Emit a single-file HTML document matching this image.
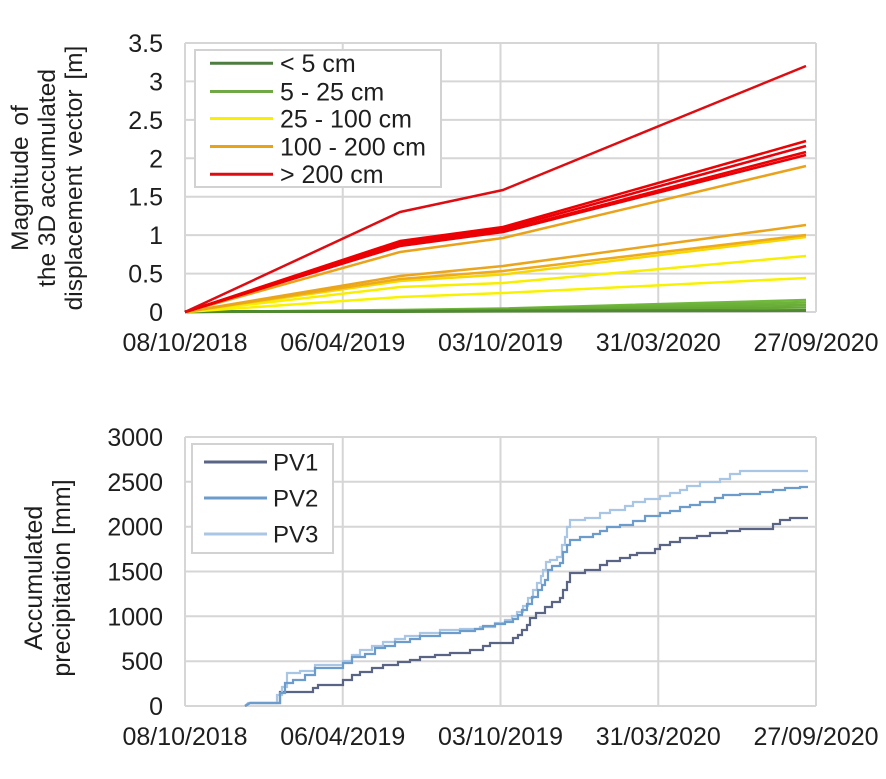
<!DOCTYPE html>
<html>
<head>
<meta charset="utf-8">
<style>
html,body{margin:0;padding:0;background:#fff;}
svg{display:block;}
text{font-family:"Liberation Sans",Arial,sans-serif;fill:#1e1e1e;}
</style>
</head>
<body>
<svg width="886" height="779" viewBox="0 0 886 779" xmlns="http://www.w3.org/2000/svg">
<rect width="886" height="779" fill="#fff"/>

<!-- ============ TOP CHART ============ -->
<g stroke="#d6d6d6" stroke-width="2" fill="none">
  <line x1="185" y1="43" x2="816" y2="43"/>
  <line x1="185" y1="81.4" x2="816" y2="81.4"/>
  <line x1="185" y1="119.9" x2="816" y2="119.9"/>
  <line x1="185" y1="158.3" x2="816" y2="158.3"/>
  <line x1="185" y1="196.7" x2="816" y2="196.7"/>
  <line x1="185" y1="235.1" x2="816" y2="235.1"/>
  <line x1="185" y1="273.6" x2="816" y2="273.6"/>
  <line x1="185" y1="312" x2="816" y2="312"/>
  <line x1="185" y1="43" x2="185" y2="312"/>
  <line x1="342.75" y1="43" x2="342.75" y2="312"/>
  <line x1="500.5" y1="43" x2="500.5" y2="312"/>
  <line x1="658.25" y1="43" x2="658.25" y2="312"/>
  <line x1="816" y1="43" x2="816" y2="312"/>
</g>

<!-- series -->
<g fill="none" stroke-linejoin="round" stroke-linecap="butt">
  <!-- greens -->
  <polyline points="185,312 400,310 503,308.5 806,300" stroke="#72b83e" stroke-width="2.5"/>
  <polyline points="185,312 400,310.5 503,309 806,302.5" stroke="#6db33a" stroke-width="2.5"/>
  <polyline points="185,312 400,311 503,309.5 806,305" stroke="#6aae38" stroke-width="2.5"/>
  <polyline points="185,312 400,311.2 503,310 806,307.5" stroke="#66a836" stroke-width="2.5"/>
  <polyline points="185,311.5 400,311.5 503,311 806,310.5" stroke="#4f8a31" stroke-width="3"/>
  <!-- yellows -->
  <polyline points="185,312 400,297 503,293 806,278" stroke="#f8f200" stroke-width="2.5"/>
  <polyline points="185,312 400,287 503,283 806,256" stroke="#f8ee00" stroke-width="2.5"/>
  <polyline points="185,312 400,281 503,274.5 806,237" stroke="#f6d800" stroke-width="2.5"/>
  <!-- oranges -->
  <polyline points="185,312 400,279 503,271 806,235" stroke="#eeaa18" stroke-width="2.5"/>
  <polyline points="185,312 400,276 503,266 806,225" stroke="#eaa51c" stroke-width="2.5"/>
  <polyline points="185,312 400,252 503,238 806,166" stroke="#e9a21a" stroke-width="2.5"/>
  <!-- reds -->
  <polyline points="185,312 400,246 503,232 806,155" stroke="#e8000a" stroke-width="2.5"/>
  <polyline points="185,312 400,245 503,231 806,152" stroke="#ee0000" stroke-width="2.5"/>
  <polyline points="185,312 400,243 503,229 806,146" stroke="#e8000a" stroke-width="2.5"/>
  <polyline points="185,312 400,241 503,227 806,141" stroke="#ee0000" stroke-width="2.5"/>
  <polyline points="185,312 400,212 503,190 659,126 806,66" stroke="#e00b10" stroke-width="2.5"/>
</g>

<!-- legend top -->
<rect x="195" y="50" width="246" height="137" fill="#fff" stroke="#d2d2d2" stroke-width="2"/>
<g stroke-width="3">
  <line x1="210" y1="63.3" x2="273" y2="63.3" stroke="#4e7d42"/>
  <line x1="210" y1="91.5" x2="273" y2="91.5" stroke="#70a845"/>
  <line x1="210" y1="118.5" x2="273" y2="118.5" stroke="#f8f000"/>
  <line x1="210" y1="146.5" x2="273" y2="146.5" stroke="#e8a317"/>
  <line x1="210" y1="174.3" x2="273" y2="174.3" stroke="#e00b10"/>
</g>
<g font-size="25">
  <text x="280" y="72">&lt; 5 cm</text>
  <text x="280" y="100.5">5 - 25 cm</text>
  <text x="280" y="127.5">25 - 100 cm</text>
  <text x="280" y="155.5">100 - 200 cm</text>
  <text x="280" y="183">&gt; 200 cm</text>
</g>

<!-- top y ticks -->
<g font-size="25" text-anchor="end">
  <text x="163" y="52">3.5</text>
  <text x="163" y="90.4">3</text>
  <text x="163" y="128.9">2.5</text>
  <text x="163" y="167.3">2</text>
  <text x="163" y="205.7">1.5</text>
  <text x="163" y="244.1">1</text>
  <text x="163" y="282.6">0.5</text>
  <text x="163" y="321">0</text>
</g>
<!-- top x ticks -->
<g font-size="25" text-anchor="middle">
  <text x="185" y="351">08/10/2018</text>
  <text x="342.75" y="351">06/04/2019</text>
  <text x="500.5" y="351">03/10/2019</text>
  <text x="658.25" y="351">31/03/2020</text>
  <text x="816" y="351">27/09/2020</text>
</g>
<!-- top y title -->
<g font-size="24.5" text-anchor="middle">
  <text transform="translate(28,178) rotate(-90)" word-spacing="4">Magnitude of</text>
  <text transform="translate(55,178) rotate(-90)">the 3D accumulated</text>
  <text transform="translate(82,178) rotate(-90)" word-spacing="3">displacement vector [m]</text>
</g>

<!-- ============ BOTTOM CHART ============ -->
<g stroke="#d6d6d6" stroke-width="2" fill="none">
  <line x1="185" y1="437" x2="816" y2="437"/>
  <line x1="185" y1="481.8" x2="816" y2="481.8"/>
  <line x1="185" y1="526.7" x2="816" y2="526.7"/>
  <line x1="185" y1="571.5" x2="816" y2="571.5"/>
  <line x1="185" y1="616.3" x2="816" y2="616.3"/>
  <line x1="185" y1="661.2" x2="816" y2="661.2"/>
  <line x1="185" y1="706" x2="816" y2="706"/>
  <line x1="185" y1="437" x2="185" y2="706"/>
  <line x1="342.75" y1="437" x2="342.75" y2="706"/>
  <line x1="500.5" y1="437" x2="500.5" y2="706"/>
  <line x1="658.25" y1="437" x2="658.25" y2="706"/>
  <line x1="816" y1="437" x2="816" y2="706"/>
</g>

<g fill="none" stroke-width="2.2" stroke-linejoin="miter">
  <!-- PV1 -->
  <path stroke="#5a6585" d="M245,706 L250,703 H280 V692 H313 V688 H318 V685 H343 V680 H352 V675 H360 V672 H372 V668 H383 V665 H398 V662 H410 V660 H420 V657 H435 V655 H450 V653 H470 V650 H483 V646 H490 V643 H513 V638 H518 V635 H522 V630 H527 V625 H530 V618 H536 V613 H545 V607 H552 V602 H560 V598 H563 V590 H567 V582 H570 V573 H585 V570 H600 V565 H607 V561 H620 V558 H630 V555 H637 V553 H655 V549 H660 V545 H670 V542 H680 V538 H697 V536 H710 V533 H727 V531 H740 V529 H773 V524 H780 V520 H790 V518 H808"/>
  <!-- PV3 -->
  <path stroke="#a9c6e4" d="M245,706 L248,703 H277 V695 H282 V687 H287 V673 H300 V671 H315 V665 H343 V661 H352 V655 H360 V650 H372 V646 H383 V642 H395 V639 H405 V636 H420 V633 H440 V630 H460 V629 H480 V627 H495 V623 H505 V620 H512 V616 H517 V612 H523 V606 H528 V598 H533 V590 H537 V583 H541 V576 H543 V570 H546 V562 H550 V560 H557 V557 H562 V545 H565 V537 H567 V527 H570 V520 H585 V518 H600 V513 H610 V510 H625 V506 H633 V502 H645 V499 H660 V496 H670 V493 H680 V490 H687 V486 H700 V482 H720 V479 H730 V474 H740 V471 H808"/>
  <!-- PV2 -->
  <path stroke="#6b9ccb" d="M245,706 L250,703 H280 V693 H285 V683 H293 V680 H305 V675 H315 V668 H343 V663 H352 V657 H365 V654 H375 V648 H385 V646 H395 V642 H410 V639 H420 V636 H440 V633 H460 V631 H475 V629 H483 V626 H495 V624 H505 V622 H513 V619 H518 V615 H522 V610 H527 V604 H532 V597 H538 V590 H542 V585 H545 V580 H548 V570 H552 V566 H560 V563 H563 V552 H567 V545 H570 V540 H580 V537 H593 V534 H600 V531 H607 V527 H620 V525 H633 V521 H645 V516 H660 V513 H670 V511 H680 V507 H690 V505 H700 V502 H715 V498 H723 V495 H740 V494 H760 V492 H773 V490 H785 V488 H800 V487 H808"/>
</g>

<!-- legend bottom -->
<rect x="192" y="444" width="141" height="109" fill="#fff" stroke="#d2d2d2" stroke-width="2"/>
<g stroke-width="3">
  <line x1="204" y1="462" x2="267" y2="462" stroke="#5a6585"/>
  <line x1="204" y1="498" x2="267" y2="498" stroke="#6b9ccb"/>
  <line x1="204" y1="534" x2="267" y2="534" stroke="#a9c6e4"/>
</g>
<g font-size="24">
  <text x="273" y="470.5">PV1</text>
  <text x="273" y="506.5">PV2</text>
  <text x="273" y="542.5">PV3</text>
</g>

<!-- bottom y ticks -->
<g font-size="25" text-anchor="end">
  <text x="163" y="446">3000</text>
  <text x="163" y="490.8">2500</text>
  <text x="163" y="535.7">2000</text>
  <text x="163" y="580.5">1500</text>
  <text x="163" y="625.3">1000</text>
  <text x="163" y="670.2">500</text>
  <text x="163" y="715">0</text>
</g>
<!-- bottom x ticks -->
<g font-size="25" text-anchor="middle">
  <text x="185" y="745">08/10/2018</text>
  <text x="342.75" y="745">06/04/2019</text>
  <text x="500.5" y="745">03/10/2019</text>
  <text x="658.25" y="745">31/03/2020</text>
  <text x="816" y="745">27/09/2020</text>
</g>
<!-- bottom y title -->
<g font-size="25" text-anchor="middle">
  <text transform="translate(42,578) rotate(-90)">Accumulated</text>
  <text transform="translate(70,578) rotate(-90)">precipitation [mm]</text>
</g>
</svg>
</body>
</html>
